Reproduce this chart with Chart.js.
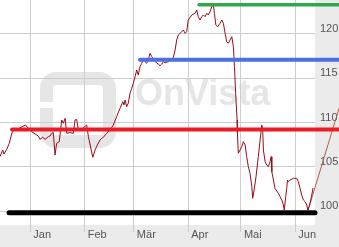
<!DOCTYPE html>
<html>
<head>
<meta charset="utf-8">
<script src="https://cdn.jsdelivr.net/npm/chart.js@4/dist/chart.umd.min.js"></script>
<style>
  html, body { margin: 0; padding: 0; background: #ebebeb; }
  canvas { display: block; }
</style>
</head>
<body>
<canvas id="kurs" width="339" height="247"></canvas>
<script>
// Kursverlauf: Tag ab 1. Januar / Kurs
const priceDays = [-17.3, -15.7, -15.0, -13.4, -12.0, -10.6, -10.0, -7.0, -2.8, 0.8, 2.7, 4.6, 5.5, 7.1, 8.4, 10.3, 11.2, 12.2, 13.1, 14.1, 15.0, 16.5, 17.9, 18.8, 19.8, 20.7, 22.6, 24.5, 25.5, 26.4, 27.4, 29.5, 32.1, 33.1, 35.6, 36.9, 38.2, 39.7, 40.7, 41.6, 43.5, 45.4, 47.3, 49.2, 51.1, 52.7, 53.4, 54.0, 54.9, 55.8, 56.8, 57.8, 58.7, 59.7, 60.6, 61.5, 62.5, 63.5, 64.4, 66.3, 67.2, 68.2, 69.2, 71.1, 72.9, 73.9, 74.9, 75.8, 76.8, 78.6, 80.6, 81.5, 82.5, 83.4, 84.3, 85.3, 86.3, 87.2, 88.2, 89.1, 90.0, 92.0, 93.9, 94.8, 95.7, 96.7, 97.7, 98.6, 99.6, 100.5, 101.4, 102.4, 103.4, 104.3, 104.9, 105.7, 106.8, 108.1, 109.1, 110.0, 111.0, 111.9, 112.8, 113.8, 114.8, 115.7, 116.3, 117.0, 117.8, 118.0, 118.5, 119.5, 120.5, 121.4, 122.4, 123.3, 124.2, 125.2, 126.2, 126.7, 127.5, 128.6, 129.9, 130.9, 131.9, 132.4, 132.8, 133.8, 134.7, 135.6, 136.6, 137.2, 137.6, 138.5, 139.4, 141.3, 142.3, 143.3, 144.2, 144.7, 145.5, 146.1, 146.5, 147.0, 148.0, 149.9, 151.8, 152.7, 153.7, 154.6, 155.6, 156.6, 157.5, 158.1, 158.8, 159.7, 161.1];
const priceValues = [106.14, 106.89, 106.44, 106.97, 107.65, 108.70, 109.15, 109.27, 109.72, 108.96, 108.70, 108.47, 108.10, 108.33, 108.10, 108.40, 108.47, 108.78, 108.85, 106.33, 107.65, 107.83, 110.28, 109.91, 110.47, 108.78, 108.85, 108.78, 110.28, 110.36, 109.15, 109.27, 109.72, 108.40, 106.07, 106.89, 107.46, 108.02, 108.21, 108.33, 108.78, 109.15, 109.72, 110.66, 111.60, 112.35, 111.98, 112.54, 111.79, 112.17, 113.30, 113.86, 114.43, 115.18, 115.93, 115.37, 116.31, 116.69, 117.06, 116.69, 117.06, 117.82, 117.44, 116.87, 116.61, 116.42, 116.61, 116.87, 116.76, 116.87, 117.06, 117.37, 118.19, 119.32, 119.89, 120.08, 120.26, 120.45, 120.08, 120.26, 121.58, 122.15, 122.34, 122.71, 121.95, 121.58, 121.95, 122.15, 121.95, 122.34, 122.15, 122.52, 123.08, 123.28, 122.34, 121.02, 120.82, 121.21, 121.58, 121.21, 120.08, 119.13, 118.95, 119.32, 119.69, 118.56, 116.31, 113.30, 110.28, 108.78, 106.52, 106.89, 107.27, 107.83, 107.46, 106.14, 105.01, 104.26, 102.75, 101.44, 102.37, 103.88, 106.14, 108.02, 109.72, 109.15, 106.89, 105.57, 105.20, 105.01, 105.57, 106.14, 104.44, 103.50, 102.56, 102.00, 101.62, 101.24, 100.68, 100.11, 101.62, 102.56, 103.50, 103.31, 103.50, 103.69, 103.69, 103.31, 102.56, 101.81, 101.24, 101.05, 100.68, 100.11, 100.49, 101.13, 102.60];

// Trendlinie
const trendDays = [158.3, 175.9];
const trendValues = [100.1, 111.6];

// Widerstand / Unterstützung
const levelValues = [123.3, 117.1, 109.2, 99.8];
const levelFrom = [96.1, 62.5, -10.4, -12.1];
const levelTo = [175.9, 175.9, 175.9, 162.2];

const monthDays = [0, 31, 59, 90, 120, 151];
const monthNames = ['Jan', 'Feb', 'Mär', 'Apr', 'Mai', 'Jun'];
const yTicks = [100, 105, 110, 115, 120];

function toPoints(xs, ys) {
    return xs.map((x, i) => ({x: x, y: ys[i]}));
}

function levelSet(i, color, width) {
    return {
        data: toPoints([levelFrom[i], levelTo[i]], [levelValues[i], levelValues[i]]),
        borderColor: color,
        borderWidth: width,
        borderCapStyle: 'round',
        pointRadius: 0,
        clip: false,
    };
}

// Hintergrund + Wasserzeichen
const backdrop = {
    id: 'backdrop',
    beforeDraw(chart) {
        const c = chart.ctx, a = chart.chartArea;
        c.save();
        c.fillStyle = '#ebebeb';
        c.fillRect(0, 0, chart.width, chart.height);
        c.fillStyle = '#ffffff';
        c.fillRect(a.left, a.top, a.right - a.left, a.bottom - a.top);

        c.strokeStyle = '#e6e6e6';
        c.lineWidth = 13;
        c.beginPath();
        c.roundRect(46.5, 78.5, 63, 63, 10);
        c.stroke();
        c.fillStyle = '#ffffff';
        c.fillRect(38, 102, 17, 6);

        c.fillStyle = '#e6e6e6';
        c.font = 'bold 36px "Liberation Sans", Arial, sans-serif';
        c.fillText('OnVista', 135, 105);
        c.restore();
    }
};

const font = {family: '"Liberation Sans", Arial, sans-serif', size: 11};
const gridColor = '#cdcdcd';

const ctx = document.getElementById('kurs').getContext('2d');
const chart = new Chart(ctx, {
    type: 'line',
    data: {
        datasets: [
            levelSet(0, '#2fa84b', 3.5),
            levelSet(1, '#4b6fe6', 4),
            levelSet(2, '#ec1c26', 4),
            levelSet(3, '#000000', 5),
            {
                data: toPoints(priceDays, priceValues),
                borderColor: '#980c18',
                borderWidth: 1,
                pointRadius: 0,
                tension: 0,
            },
            {
                data: toPoints(trendDays, trendValues),
                borderColor: '#b2604a',
                borderWidth: 1,
                pointRadius: 0,
                clip: false,
            },
        ]
    },
    options: {
        responsive: false,
        animation: false,
        layout: {padding: 0},
        scales: {
            x: {
                type: 'linear',
                min: -17.27,
                max: 162.2,
                afterBuildTicks: s => { s.ticks = monthDays.map(v => ({value: v})); },
                afterFit: s => { s.height = 22; s.paddingLeft = 0; s.paddingRight = 0; },
                grid: {color: gridColor, tickColor: gridColor, drawTicks: true, tickLength: 7},
                border: {display: false},
                ticks: {
                    align: 'start',
                    labelOffset: 3,
                    padding: -4,
                    maxRotation: 0,
                    autoSkip: false,
                    color: '#555555',
                    font: font,
                    callback: v => monthNames[monthDays.indexOf(v)],
                },
            },
            y: {
                position: 'right',
                min: 98.42,
                max: 123.84,
                afterBuildTicks: s => { s.ticks = yTicks.map(v => ({value: v})); },
                afterFit: s => { s.width = 24; s.paddingTop = 0; s.paddingBottom = 0; },
                grid: {color: gridColor, drawTicks: false},
                border: {display: false},
                ticks: {
                    padding: 5,
                    labelOffset: -5,
                    color: '#555555',
                    font: font,
                },
            },
        },
        plugins: {
            legend: {display: false},
            tooltip: {enabled: false},
        },
    },
    plugins: [backdrop],
});
</script>
</body>
</html>
